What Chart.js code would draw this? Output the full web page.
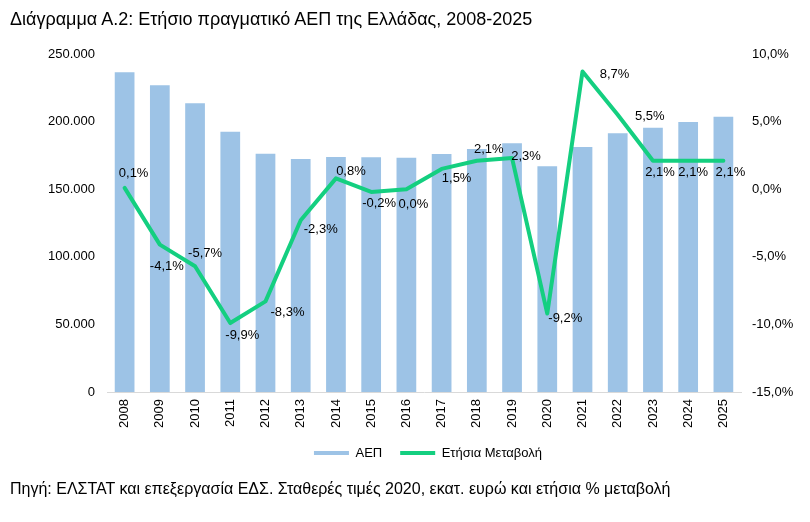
<!DOCTYPE html>
<html>
<head>
<meta charset="utf-8">
<script src="https://cdn.jsdelivr.net/npm/chart.js@4/dist/chart.umd.min.js"></script>
<style>
  html, body { margin: 0; padding: 0; background: #fff; }
  #wrap { position: relative; width: 810px; height: 522px; overflow: hidden; }
  #c { position: absolute; left: 0; top: 0; }
  .txt { position: absolute; left: 10px; font-family: "Liberation Sans", Arial, sans-serif; color: #000; white-space: nowrap; }
  #title { top: 8px; font-size: 18px; line-height: 22px; }
  #foot { top: 479px; font-size: 16px; line-height: 19px; }
</style>
</head>
<body>
<div id="wrap">
  <canvas id="c" width="810" height="522"></canvas>
  <div class="txt" id="title">Διάγραμμα Α.2: Ετήσιο πραγματικό ΑΕΠ της Ελλάδας, 2008-2025</div>
  <div class="txt" id="foot">Πηγή: ΕΛΣΤΑΤ και επεξεργασία ΕΔΣ. Σταθερές τιμές 2020, εκατ. ευρώ και ετήσια % μεταβολή</div>
</div>
<script>
// ---- data ----
const years = ['2008','2009','2010','2011','2012','2013','2014','2015','2016','2017','2018','2019','2020','2021','2022','2023','2024','2025'];
const gdp = [236500, 226800, 213500, 192500, 176300, 172300, 173800, 173600, 173300, 176000, 179700, 184000, 167000, 181200, 191300, 195500, 199700, 203600];
const growth = [0.1, -4.1, -5.7, -9.9, -8.3, -2.3, 0.8, -0.2, 0.0, 1.5, 2.1, 2.3, -9.2, 8.7, 5.5, 2.1, 2.1, 2.1];
const seriesNames = ['ΑΕΠ', 'Ετήσια Μεταβολή'];

// ---- label placement (style) ----
const labelOffsets = [[9,-14],[7,22],[10,-13],[12,12],[22,11],[20,9],[15,-7],[8,12],[7,15],[15,10],[12,-11],[14,-2],[18,5],[32,3],[32,2],[7,12],[5,12],[7,12]];

const FONT = '"Liberation Sans", Arial, sans-serif';
const fmtPct = v => v.toFixed(1).replace('.', ',') + '%';
const fmtThousands = v => String(Math.round(v)).replace(/\B(?=(\d{3})+(?!\d))/g, '.');

const lineLabels = {
  id: 'lineLabels',
  afterDatasetsDraw(chart) {
    const meta = chart.getDatasetMeta(1);
    const ctx = chart.ctx;
    ctx.save();
    ctx.font = '13px ' + FONT;
    ctx.fillStyle = '#000';
    ctx.textAlign = 'center';
    ctx.textBaseline = 'middle';
    meta.data.forEach((pt, i) => {
      const off = labelOffsets[i] || [0, -12];
      ctx.fillText(fmtPct(growth[i]), pt.x + off[0], pt.y + off[1]);
    });
    ctx.restore();
  }
};

Chart.defaults.font.family = FONT;
Chart.defaults.font.size = 13;
Chart.defaults.color = '#000';

new Chart(document.getElementById('c'), {
  type: 'bar',
  data: {
    labels: years,
    datasets: [
      {
        type: 'bar',
        label: seriesNames[0],
        data: gdp,
        backgroundColor: '#9DC3E6',
        borderWidth: 0,
        yAxisID: 'y',
        categoryPercentage: 1.0,
        barPercentage: 0.56,
        order: 1
      },
      {
        type: 'line',
        label: seriesNames[1],
        data: growth,
        borderColor: '#14CF80',
        backgroundColor: '#14CF80',
        borderWidth: 4,
        pointRadius: 0,
        tension: 0,
        borderJoinStyle: 'round',
        borderCapStyle: 'round',
        yAxisID: 'y2',
        order: 0
      }
    ]
  },
  options: {
    responsive: false,
    animation: false,
    layout: { padding: { left: 46, right: 0, top: 54, bottom: 52.5 } },
    plugins: {
      tooltip: { enabled: false },
      legend: {
        position: 'bottom',
        labels: {
          boxWidth: 35,
          boxHeight: 4,
          padding: 18,
          font: { size: 13, family: FONT },
          color: '#000',
          generateLabels(chart) {
            return chart.data.datasets.map((ds, i) => ({
              text: ds.label,
              fillStyle: ds.type === 'line' ? ds.borderColor : ds.backgroundColor,
              strokeStyle: ds.type === 'line' ? ds.borderColor : ds.backgroundColor,
              lineWidth: 0,
              hidden: false,
              datasetIndex: i
            }));
          }
        }
      }
    },
    scales: {
      x: {
        grid: { display: false, drawTicks: false },
        border: { display: true, color: '#D9D9D9', width: 1 },
        ticks: { minRotation: 90, maxRotation: 90, padding: 7, font: { size: 13 } },
        afterFit(s) { s.height = 36.5; }
      },
      y: {
        position: 'left',
        min: 0, max: 250000,
        grid: { display: false, drawTicks: false },
        border: { display: false },
        ticks: { stepSize: 50000, padding: 12, callback: v => fmtThousands(v) },
        afterFit(s) { s.width = 61; }
      },
      y2: {
        position: 'right',
        min: -15, max: 10,
        grid: { display: false, drawTicks: false },
        border: { display: false },
        ticks: { stepSize: 5, padding: 11, callback: v => fmtPct(v) },
        afterFit(s) { s.width = 69; }
      }
    }
  },
  plugins: [lineLabels]
});
</script>
</body>
</html>
